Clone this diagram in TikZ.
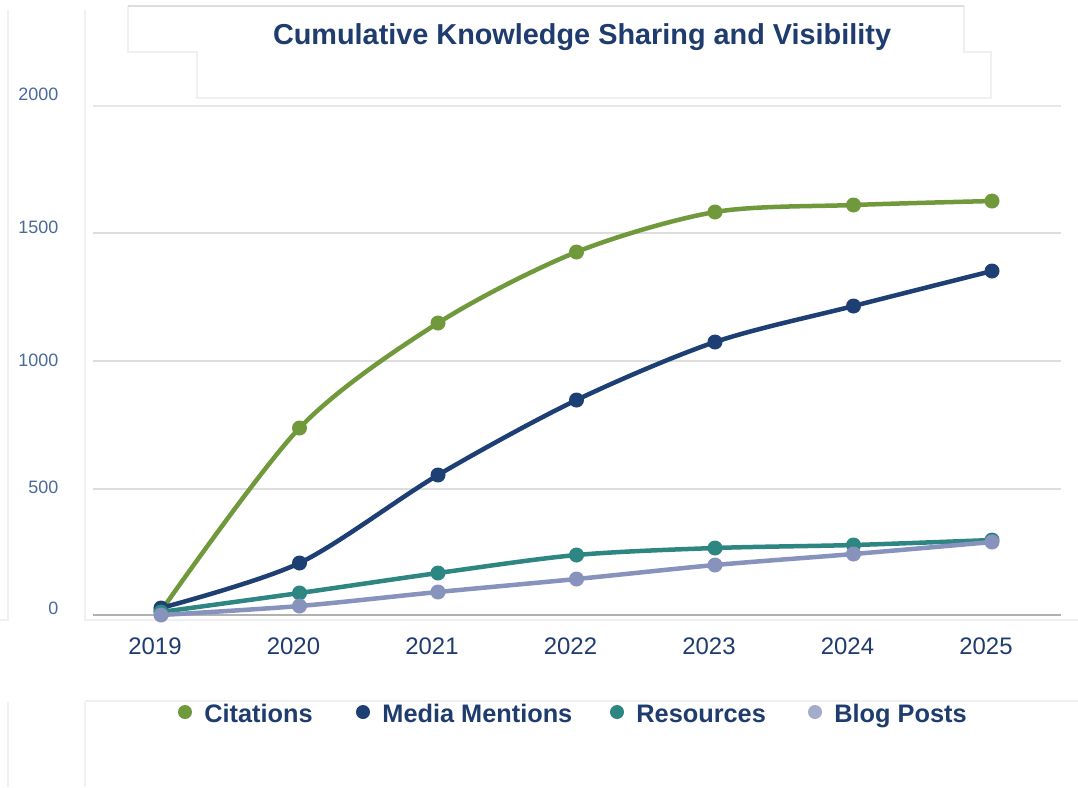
\documentclass[tikz,border=0pt]{standalone}
\usepackage{fontspec}
\setmainfont{Liberation Sans}
\usetikzlibrary{positioning}

\definecolor{citeGreen}{HTML}{6F993B}
\definecolor{mediaNavy}{HTML}{1E3F73}
\definecolor{resTeal}{HTML}{2E8683}
\definecolor{blogGrey}{HTML}{8893BD}
\definecolor{blogLegend}{HTML}{A3ADCB}
\definecolor{titleBlue}{HTML}{1F3C6E}
\definecolor{tickBlue}{HTML}{4A6A9A}
\definecolor{gridGrey}{HTML}{DDDDDD}
\definecolor{frameGrey}{HTML}{F0F0F0}

\tikzset{
	series/.style={line width=0.045cm, line cap=round, line join=round},
	grid line/.style={draw=gridGrey, line width=0.012cm},
	frame line/.style={draw=frameGrey, line width=0.012cm},
	year/.style={font=\fontsize{6.8pt}{8pt}\selectfont, text=titleBlue},
	tick/.style={font=\fontsize{5.1pt}{6pt}\selectfont, text=tickBlue, anchor=east, inner sep=0pt},
	legend dot/.style={circle, fill=#1, inner sep=0pt, minimum size=0.14cm},
	legend text/.style={font=\bfseries\fontsize{7.2pt}{8pt}\selectfont, text=titleBlue, inner sep=0pt, text height=1.45ex, text depth=0.3ex}
}

\begin{document}
\begin{tikzpicture}[x=0.01cm, y=-0.01cm]
	\useasboundingbox (0,0) rectangle (1078,787);
	\fill[white] (0,0) rectangle (1078,787);

	% faint panel borders
	\draw[frame line] (8,10) -- (8,620) -- (0,620);
	\draw[frame line] (85,10) -- (85,620) -- (1078,620);
	\draw[frame line] (8,702) -- (8,787);
	\draw[frame line] (85,702) -- (85,787);
	\draw[frame line] (85,701) -- (1078,701);
	\draw[frame line] (128,6) -- (128,52) -- (197,52) -- (197,98) -- (991,98) -- (991,52) -- (964,52) -- (964,6);
	\draw[draw=gridGrey, line width=0.012cm] (128,6) -- (964,6);

	\node[font=\bfseries\fontsize{8.2pt}{10pt}\selectfont, text=titleBlue] (title) at (582,37) {Cumulative Knowledge Sharing and Visibility};

	% grid
	\draw[draw=gridGrey!70, line width=0.025cm] (93,106) -- (1061,106);
	\foreach \y in {233,361,489}
		\draw[grid line] (93,\y) -- (1061,\y);
	\draw[draw=gridGrey!80!black, line width=0.015cm] (93,615) -- (1061,615);

	\foreach \lab/\y in {2000/94,1500/227,1000/360,500/487,0/608}
		\node[tick] (tick\lab) at (59,\y) {\lab};

	\foreach \yr [count=\i from 0] in {2019,2020,2021,2022,2023,2024,2025}
		\node[year] (yr\yr) at ({155+138.5*\i},646) {\yr};

	% data points
	\foreach \v [count=\i from 0] in {611,428,323,252,212,205,201}
		\coordinate (cite\i) at ({161+138.5*\i},\v);
	\foreach \v [count=\i from 0] in {608,563,475,400,342,306,271}
		\coordinate (media\i) at ({161+138.5*\i},\v);
	\foreach \v [count=\i from 0] in {612,593,573,555,548,545,540}
		\coordinate (res\i) at ({161+138.5*\i},\v);
	\foreach \v [count=\i from 0] in {615,606,592,579,565,554,542}
		\coordinate (blog\i) at ({161+138.5*\i},\v);

	\foreach \s/\c in {cite/citeGreen,media/mediaNavy,res/resTeal,blog/blogGrey} {
		\draw[series, \c] plot[smooth, tension=0.5] coordinates {(\s0) (\s1) (\s2) (\s3) (\s4) (\s5) (\s6)};
		\foreach \i in {0,...,6}
			\fill[\c] (\s\i) circle (0.075cm);
	}

	% legend
	\node[legend dot=citeGreen] (dotCite) at (185,712) {};
	\node[legend text, right=0.11cm of dotCite] (labCite) {Citations};
	\node[legend dot=mediaNavy] (dotMedia) at (363,712) {};
	\node[legend text, right=0.11cm of dotMedia] (labMedia) {Media Mentions};
	\node[legend dot=resTeal] (dotRes) at (617,712) {};
	\node[legend text, right=0.11cm of dotRes] (labRes) {Resources};
	\node[legend dot=blogLegend] (dotBlog) at (815,712) {};
	\node[legend text, right=0.11cm of dotBlog] (labBlog) {Blog Posts};
\end{tikzpicture}
\end{document}
